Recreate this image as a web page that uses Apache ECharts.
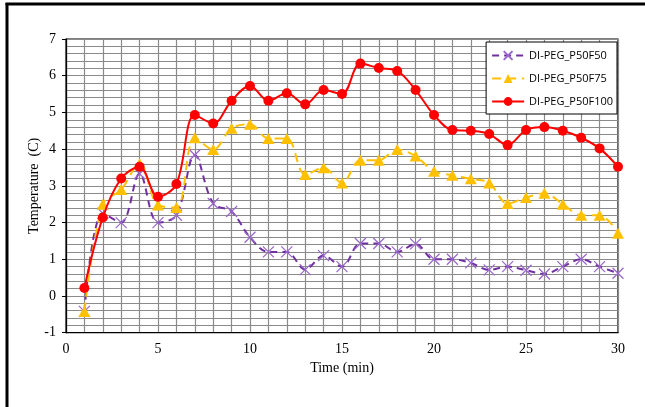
<!DOCTYPE html>
<html><head><meta charset="utf-8">
<script src="https://cdn.jsdelivr.net/npm/echarts@6/dist/echarts.min.js"></script>
<style>html,body{margin:0;padding:0;background:#fff}#c{width:645px;height:407px}</style>
</head><body><div id="c"></div>
<script>
const times = [1,2,3,4,5,6,7,8,9,10,11,12,13,14,15,16,17,18,19,20,21,22,23,24,25,26,27,28,29,30];
const seriesNames = ['DI-PEG_P50F50','DI-PEG_P50F75','DI-PEG_P50F100'];
const p50f50 = [-0.42,2.25,2.0,3.33,2.0,2.2,3.84,2.52,2.3,1.6,1.2,1.2,0.72,1.1,0.8,1.43,1.43,1.2,1.42,1.0,1.0,0.9,0.71,0.8,0.7,0.6,0.8,1.0,0.8,0.62];
const p50f75 = [-0.42,2.5,2.9,3.61,2.48,2.41,4.31,3.99,4.57,4.68,4.29,4.29,3.31,3.49,3.08,3.7,3.7,3.99,3.81,3.4,3.29,3.19,3.08,2.52,2.68,2.8,2.5,2.2,2.2,1.71];
const p50f100 = [0.22,2.14,3.2,3.52,2.7,3.05,4.93,4.7,5.32,5.72,5.32,5.52,5.22,5.61,5.5,6.33,6.21,6.13,5.61,4.93,4.52,4.5,4.41,4.11,4.52,4.6,4.5,4.31,4.02,3.52];

const pair = arr => times.map((t,i)=>[t,arr[i]]);
const serif = '"Liberation Serif","Times New Roman",serif';
const sans = '"Open Sans","DejaVu Sans",sans-serif';
const chart = echarts.init(document.getElementById('c'));
chart.setOption({
  animation:false,
  backgroundColor:'#fff',
  grid:{left:66,right:27,top:39,bottom:74.3,show:true,borderColor:'#000',borderWidth:1.2,z:0},
  legend:{
    right:28,top:42,orient:'vertical',itemGap:12,itemWidth:32,itemHeight:11,
    padding:[8,4,7,5],
    backgroundColor:'#fff',borderColor:'#000',borderWidth:1,borderRadius:0,
    textStyle:{fontFamily:sans,fontSize:11,color:'#000'},
    data:seriesNames
  },
  xAxis:{
    type:'value',min:0,max:30,interval:5,
    name:'Time (min)',nameLocation:'middle',nameGap:25,
    nameTextStyle:{fontFamily:serif,fontSize:14,color:'#000'},
    axisLine:{show:true,onZero:false,lineStyle:{color:'#000',width:1.2}},
    axisTick:{show:false},
    axisLabel:{fontFamily:serif,fontSize:14,color:'#000',margin:10},
    splitLine:{show:true,lineStyle:{color:'#8a8a8a',width:1.2}},
    minorTick:{show:false,splitNumber:5},
    minorSplitLine:{show:true,lineStyle:{color:'#8a8a8a',width:1.2}}
  },
  yAxis:{
    type:'value',min:-1,max:7,interval:1,
    name:'Temperature  (C)',nameLocation:'middle',nameGap:25,nameRotate:90,nameMoveOverlap:false,
    nameTextStyle:{fontFamily:serif,fontSize:14,color:'#000'},
    axisLine:{show:true,lineStyle:{color:'#000',width:1.2}},
    axisTick:{show:true,inside:false,length:4,lineStyle:{color:'#000'}},
    axisLabel:{fontFamily:serif,fontSize:14,color:'#000',margin:10},
    splitLine:{show:true,lineStyle:{color:'#8a8a8a',width:1.2}},
    minorTick:{show:false,splitNumber:5},
    minorSplitLine:{show:true,lineStyle:{color:'#8a8a8a',width:1.2}}
  },
  series:[
    {name:seriesNames[0],type:'line',data:pair(p50f50),smooth:0.35,
     lineStyle:{color:'#7030A0',width:2,type:[7,5]},
     symbol:'path://M0,0L10,10M10,0L0,10',symbolSize:11,
     itemStyle:{color:'#7030A0',borderColor:'#9966CC',borderWidth:1.2},z:3},
    {name:seriesNames[1],type:'line',data:pair(p50f75),smooth:0.35,
     lineStyle:{color:'#FFC000',width:2,type:[9,6]},
     symbol:'triangle',symbolSize:[12,11],
     itemStyle:{color:'#FFC000'},z:4},
    {name:seriesNames[2],type:'line',data:pair(p50f100),smooth:0.35,
     lineStyle:{color:'#FF0000',width:2},
     symbol:'circle',symbolSize:10,
     itemStyle:{color:'#FF0000'},z:5}
  ],
  graphic:[
    {type:'line',shape:{x1:7,y1:3,x2:7,y2:407},style:{stroke:'#000',lineWidth:3},silent:true},
    {type:'line',shape:{x1:5.5,y1:4,x2:645,y2:4},style:{stroke:'#000',lineWidth:3},silent:true}
  ]
});
</script></body></html>
